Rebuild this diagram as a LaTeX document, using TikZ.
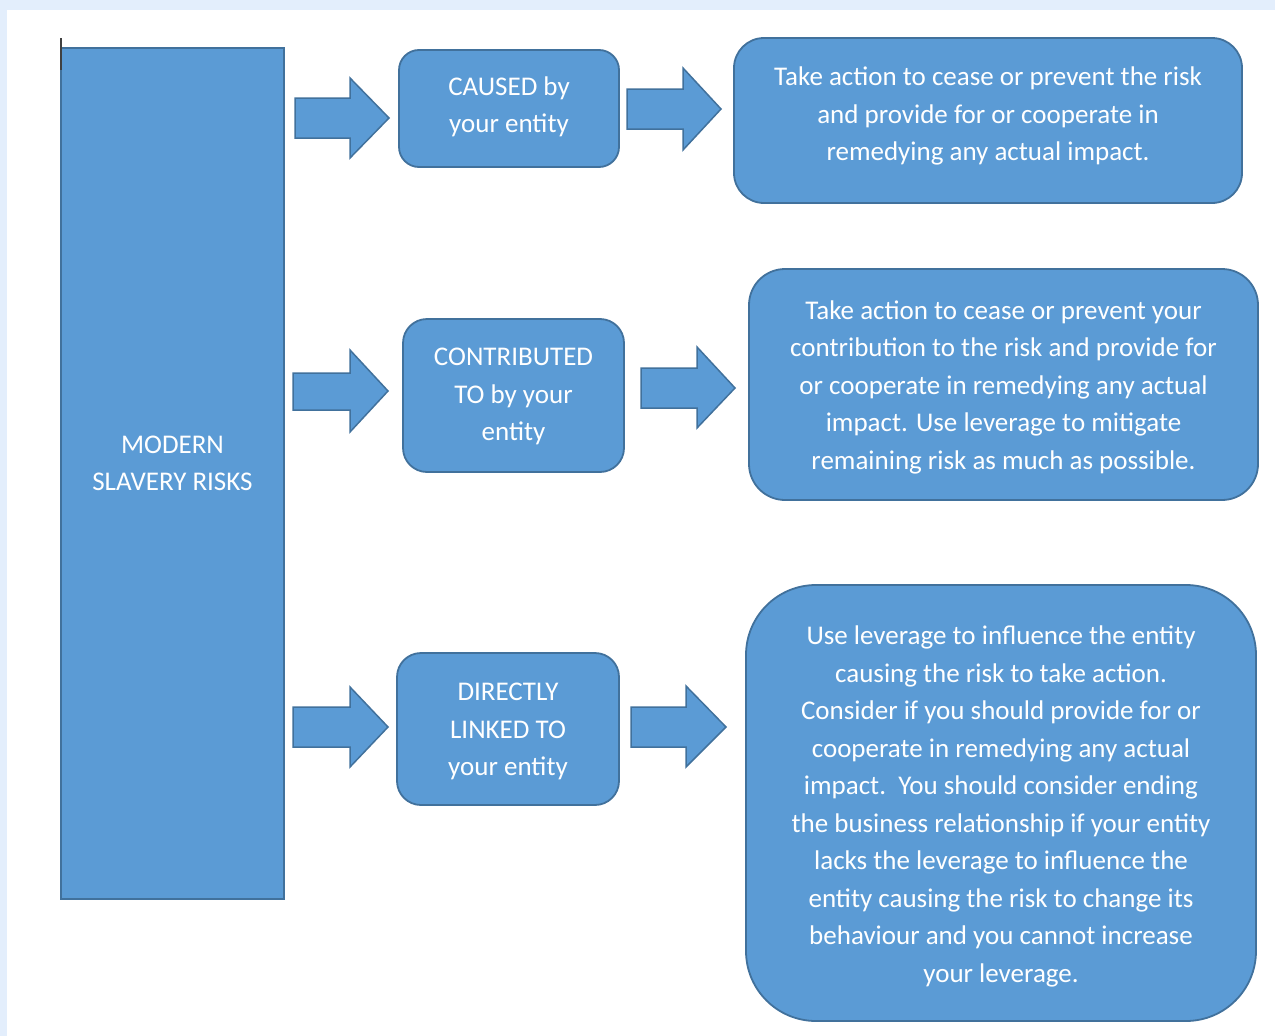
\documentclass[tikz,border=0pt]{standalone}
\usepackage{fontspec}
\setmainfont{Carlito}
\definecolor{boxfill}{HTML}{5B9BD5}
\definecolor{boxline}{HTML}{41719C}
\definecolor{framecol}{HTML}{E3EEFC}
\newcommand\liftlines[2]{\raisebox{#1}[\height][\depth]{\begin{tabular}{@{}c@{}}#2\end{tabular}}}
\begin{document}
\begin{tikzpicture}[x=1pt,y=-1pt,
  box/.style={draw=boxline, fill=boxfill, line width=1.8pt, rounded corners=#1,
    text=white, inner sep=0pt,
    font=\fontsize{27}{37.5}\selectfont},
  barrow/.style={draw=boxline, fill=boxfill, line width=1.5pt, line join=miter}]
\useasboundingbox (0,0) rectangle (1275,1036);
\fill[framecol] (0,0) rectangle (1275,1036);
\fill[white] (7,10) rectangle (1275,1036);
% main column
\node[box=0pt, minimum width=223pt, minimum height=851pt] (risk) at (172.5,473.5) {\liftlines{9pt}{MODERN\\SLAVERY RISKS}};
\draw[line width=1.5pt, black!75] (61,38) -- (61,70);
% middle boxes
\node[box=20pt, minimum width=220pt, minimum height=117pt] (caused) at (509,108.5) {\liftlines{2pt}{CAUSED by\\your entity}};
\node[box=24pt, minimum width=221pt, minimum height=153pt] (contrib) at (513.5,395.5) {\liftlines{0pt}{CONTRIBUTED\\TO by your\\entity}};
\node[box=24pt, minimum width=222pt, minimum height=152pt] (linked) at (508,729) {\liftlines{-1.5pt}{DIRECTLY\\LINKED TO\\your entity}};
% right boxes
\node[box=30pt, minimum width=508pt, minimum height=165pt] (act1) at (988,120.5)
  {\liftlines{5pt}{Take action to cease or prevent the risk\\and provide for or cooperate in\\remedying any actual impact.}};
\node[box=36pt, minimum width=509pt, minimum height=231pt] (act2) at (1003.5,384.5)
  {\liftlines{-2pt}{Take action to cease or prevent your\\contribution to the risk and provide for\\or cooperate in remedying any actual\\impact. Use leverage to mitigate\\remaining risk as much as possible.}};
\node[box=70pt, minimum width=510pt, minimum height=436pt] (act3) at (1001,803)
  {\liftlines{-3pt}{Use leverage to influence the entity\\causing the risk to take action.\\Consider if you should provide for or\\cooperate in remedying any actual\\impact.\ \ You should consider ending\\the business relationship if your entity\\lacks the leverage to influence the\\entity causing the risk to change its\\behaviour and you cannot increase\\your leverage.}};
% block arrows
\draw[barrow] (295,98) -- (350,98) -- (350,78) -- (389,118) -- (350,158) -- (350,138) -- (295,138) -- cycle;
\draw[barrow] (627,89) -- (683,89) -- (683,68) -- (721,109) -- (683,150) -- (683,129) -- (627,129) -- cycle;
\draw[barrow] (293,373) -- (350,373) -- (350,350) -- (388,391) -- (350,432) -- (350,410) -- (293,410) -- cycle;
\draw[barrow] (641,368) -- (697,368) -- (697,347) -- (735,388) -- (697,428) -- (697,408) -- (641,408) -- cycle;
\draw[barrow] (293,707) -- (350,707) -- (350,687) -- (388,727) -- (350,767) -- (350,747) -- (293,747) -- cycle;
\draw[barrow] (631,707) -- (686,707) -- (686,686) -- (726,727) -- (686,767) -- (686,747) -- (631,747) -- cycle;
\end{tikzpicture}
\end{document}
